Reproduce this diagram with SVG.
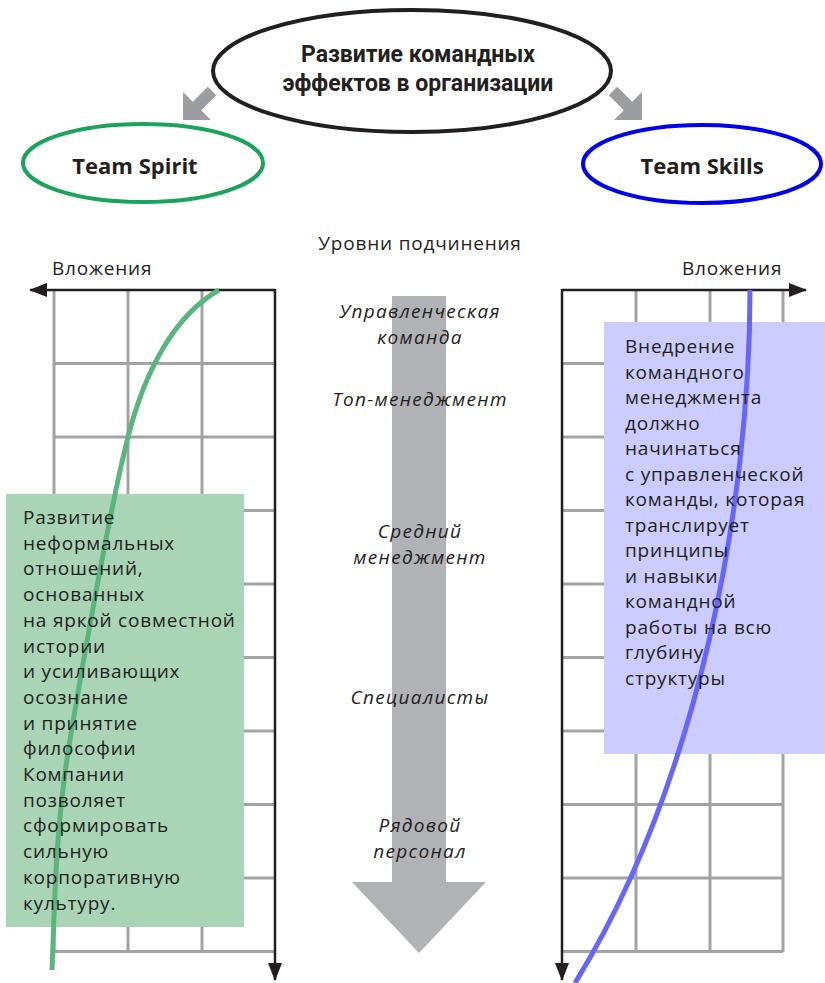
<svg xmlns="http://www.w3.org/2000/svg" width="825" height="983" viewBox="0 0 825 983">
<style>
text{font-family:"Open Sans","Noto Sans","Liberation Sans",sans-serif;fill:#231f20}
.title{font-family:Roboto,"Open Sans",sans-serif;font-size:23px;font-weight:700;text-anchor:middle}
.team{font-size:22px;font-weight:700;text-anchor:middle}
.body{font-size:19px;letter-spacing:0.8px}
.lvl{font-size:19px;font-style:italic;text-anchor:middle;letter-spacing:1.3px}
.lbl{font-size:19px;letter-spacing:0.8px}
.grid{stroke:#a3a3a6;stroke-width:3;fill:none}
.axis{stroke:#231f20;stroke-width:2.5;fill:none}
.gray{fill:#9c9da0}
</style>
<defs>
<marker id="ah" viewBox="0 0 18 14" refX="17" refY="7" markerWidth="18" markerHeight="14" markerUnits="userSpaceOnUse" orient="auto">
<path d="M0,0 L18,7 L0,14 Z" fill="#231f20"/>
</marker>
</defs>
<rect width="825" height="983" fill="#ffffff"/>

<g id="connectors">
<polygon class="gray" points="183,92 192.8,101.8 207.8,86.8 216.2,95.2 201.2,110.2 211,120 183,120"/>
<polygon class="gray" points="642,92 632.2,101.8 617.2,86.8 608.8,95.2 623.8,110.2 614,120 642,120"/>
</g>

<g id="title">
<ellipse cx="412" cy="71" rx="199" ry="61" fill="#ffffff" stroke="#231f20" stroke-width="4"/>
<text class="title" x="418" y="62">Развитие командных</text>
<text class="title" x="418" y="91">эффектов в организации</text>
</g>

<g id="team-spirit">
<ellipse cx="143" cy="163" rx="120" ry="39" fill="none" stroke="#1aa35a" stroke-width="4"/>
<text class="team" x="135" y="174">Team Spirit</text>
</g>

<g id="team-skills">
<ellipse cx="702" cy="164" rx="119" ry="39" fill="none" stroke="#0000ee" stroke-width="4"/>
<text class="team" x="702" y="174">Team Skills</text>
</g>

<g id="levels">
<text class="lbl" x="420" y="250" text-anchor="middle">Уровни подчинения</text>
<rect x="392" y="296" width="54" height="587" fill="#b1b2b6"/>
<polygon points="352,882 486,882 419,953" fill="#b1b2b6"/>
<text class="lvl" x="420" y="318">Управленческая</text>
<text class="lvl" x="420" y="344">команда</text>
<text class="lvl" x="420" y="406">Топ-менеджмент</text>
<text class="lvl" x="420" y="538">Средний</text>
<text class="lvl" x="420" y="564">менеджмент</text>
<text class="lvl" x="420" y="704">Специалисты</text>
<text class="lvl" x="420" y="832">Рядовой</text>
<text class="lvl" x="420" y="858">персонал</text>
</g>

<g id="left-chart">
<text class="lbl" x="52" y="275">Вложения</text>
<path class="grid" d="M54,290V952M128,290V952M202,290V952M54,363.5H275M54,437H275M54,510.5H275M54,584H275M54,657.5H275M54,731H275M54,804.5H275M54,878H275M54,951.5H275"/>
<path class="axis" d="M275,290H30" marker-end="url(#ah)"/>
<path class="axis" d="M275,289V980" marker-end="url(#ah)"/>
<rect x="6" y="494" width="238" height="433" fill="#a9d4b5"/>
<path d="M219,290 C175,315 145,370 128,437 S85,650 70,740 S55,900 52,970" fill="none" stroke="#5ab67e" stroke-width="5"/>
<g class="body">
<text x="23" y="524">Развитие</text>
<text x="23" y="549.7">неформальных</text>
<text x="23" y="575.4">отношений,</text>
<text x="23" y="601.1">основанных</text>
<text x="23" y="626.8">на яркой совместной</text>
<text x="23" y="652.5">истории</text>
<text x="23" y="678.2">и усиливающих</text>
<text x="23" y="703.9">осознание</text>
<text x="23" y="729.6">и принятие</text>
<text x="23" y="755.3">философии</text>
<text x="23" y="781">Компании</text>
<text x="23" y="806.7">позволяет</text>
<text x="23" y="832.4">сформировать</text>
<text x="23" y="858.1">сильную</text>
<text x="23" y="883.8">корпоративную</text>
<text x="23" y="909.5">культуру.</text>
</g>
</g>

<g id="right-chart">
<text class="lbl" x="682" y="275">Вложения</text>
<path class="grid" d="M636,290V952M710,290V952M783,290V952M562,363.5H783M562,437H783M562,510.5H783M562,584H783M562,657.5H783M562,731H783M562,804.5H783M562,878H783M562,951.5H783"/>
<path class="axis" d="M562,290H806" marker-end="url(#ah)"/>
<path class="axis" d="M562,289V980" marker-end="url(#ah)"/>
<rect x="604" y="322" width="221" height="432" fill="#ccccff"/>
<path d="M750,290 C750,500 700,780 575,983" fill="none" stroke="#6666ff" stroke-width="5"/>
<g class="body">
<text x="625" y="353">Внедрение</text>
<text x="625" y="378.5">командного</text>
<text x="625" y="404">менеджмента</text>
<text x="625" y="429.5">должно</text>
<text x="625" y="455">начинаться</text>
<text x="625" y="480.5">с управленческой</text>
<text x="625" y="506">команды, которая</text>
<text x="625" y="531.5">транслирует</text>
<text x="625" y="557">принципы</text>
<text x="625" y="582.5">и навыки</text>
<text x="625" y="608">командной</text>
<text x="625" y="633.5">работы на всю</text>
<text x="625" y="659">глубину</text>
<text x="625" y="684.5">структуры</text>
</g>
</g>
</svg>
